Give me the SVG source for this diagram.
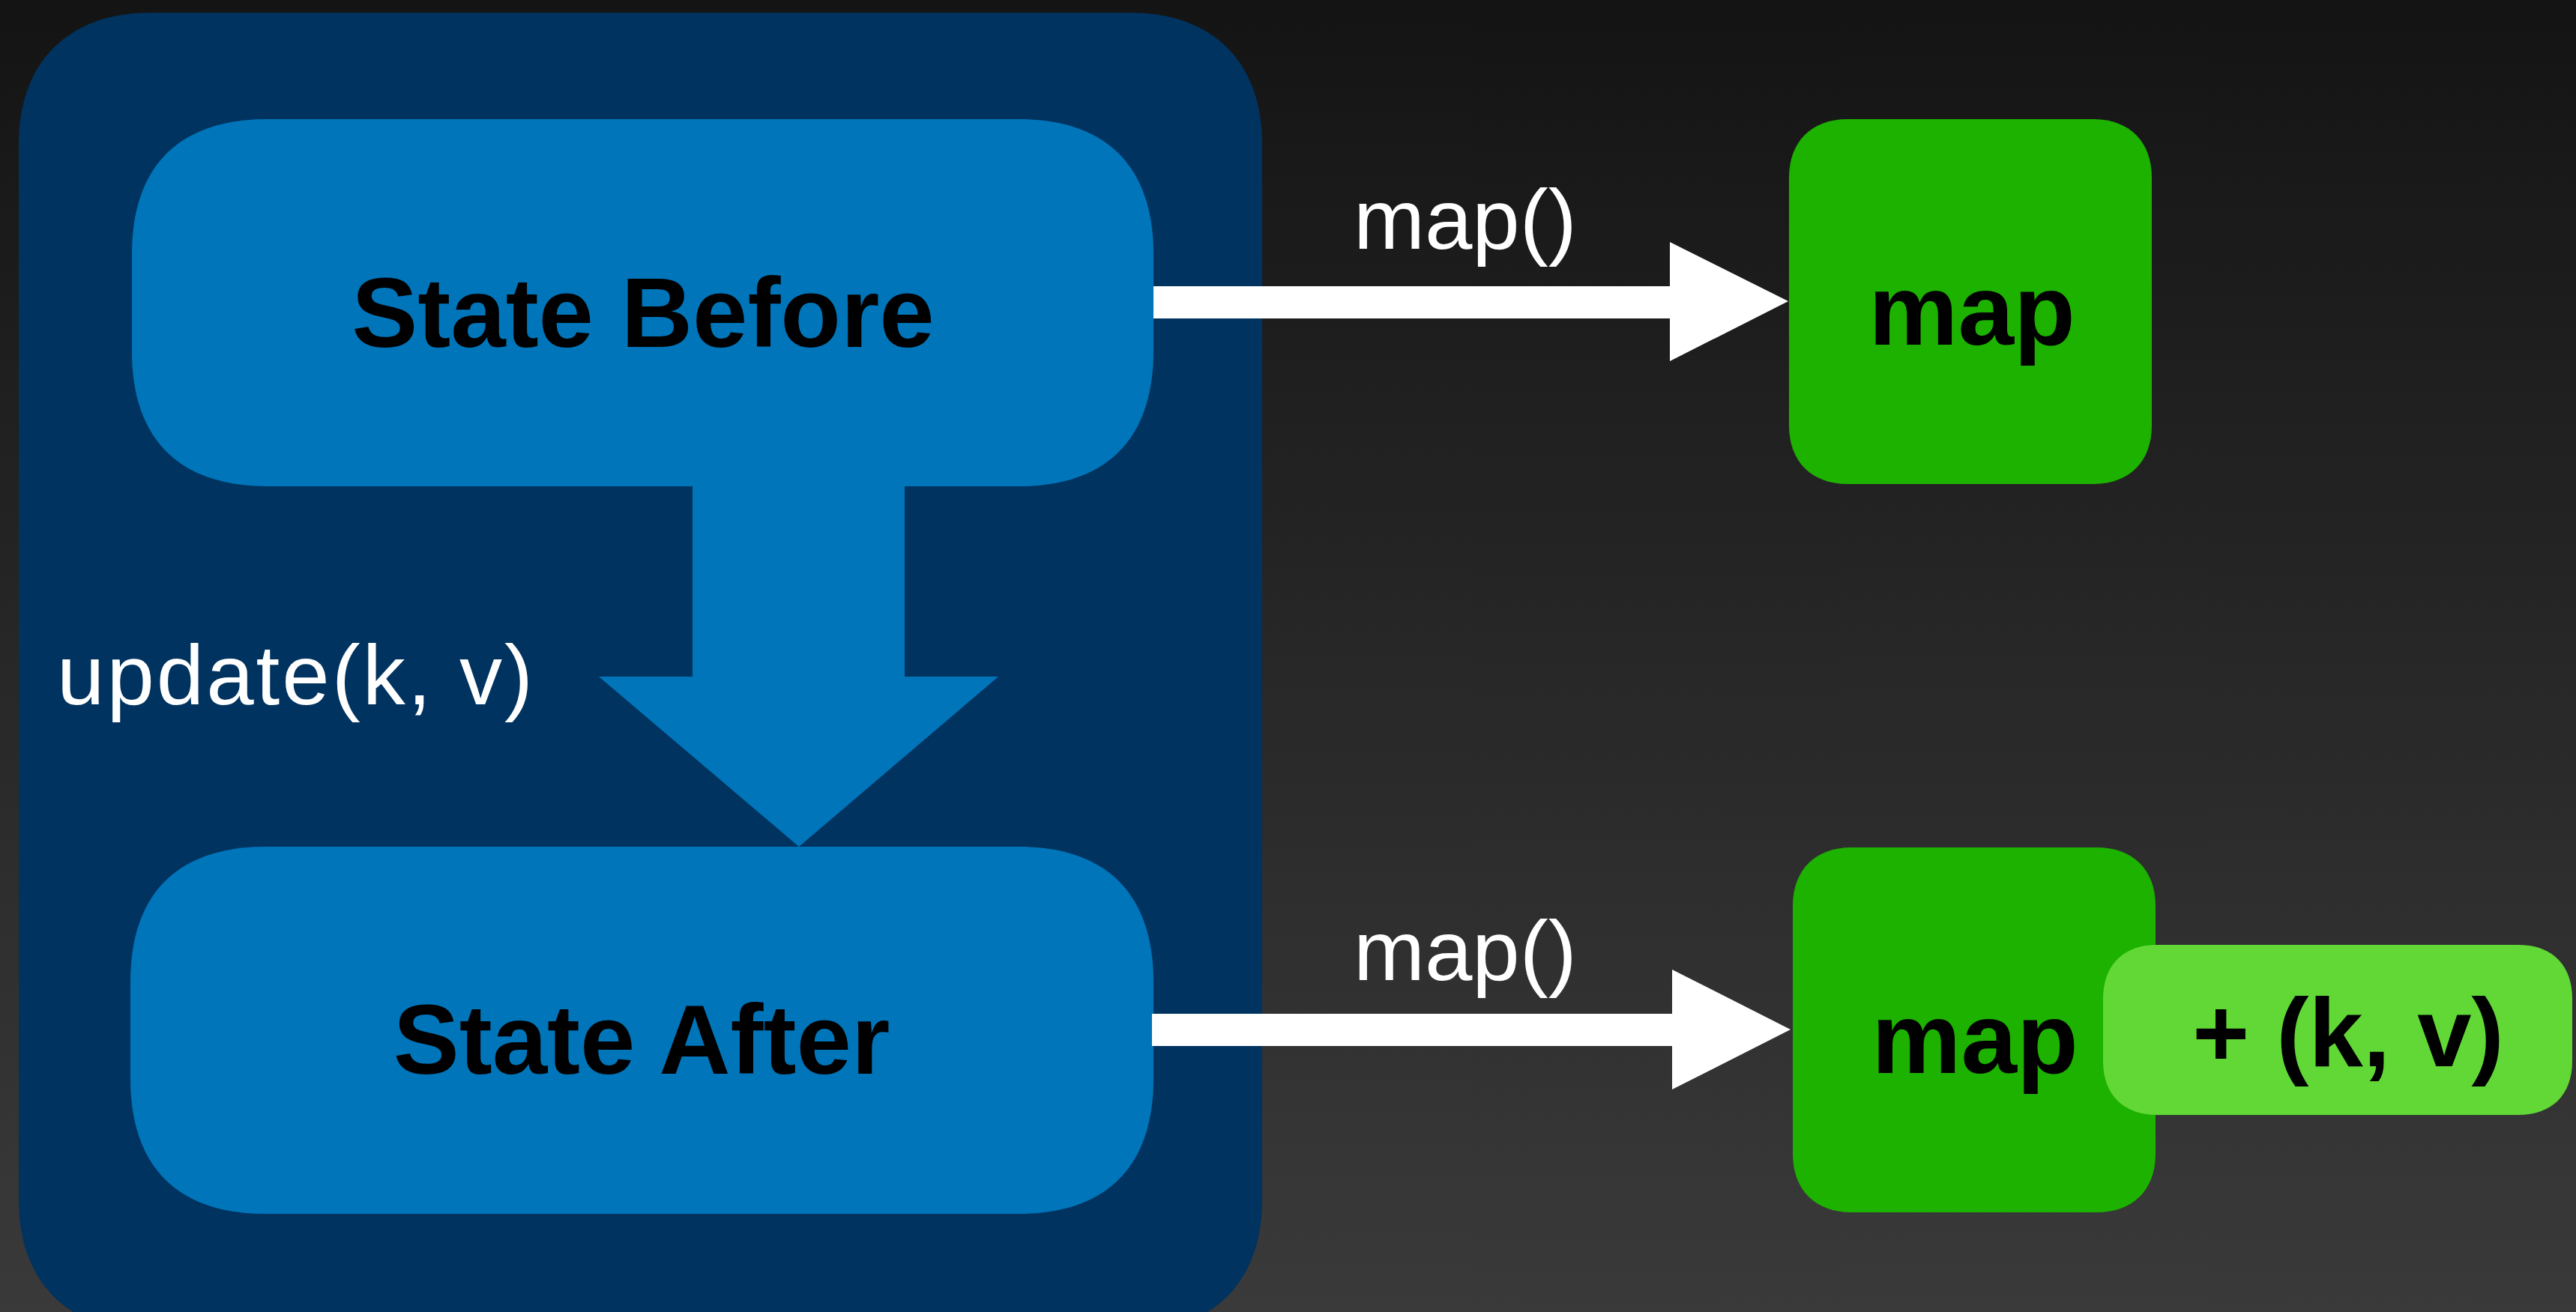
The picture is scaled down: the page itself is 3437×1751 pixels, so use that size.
<svg xmlns="http://www.w3.org/2000/svg" width="3437" height="1751" viewBox="0 0 3437 1751">
<defs>
<linearGradient id="bg" x1="0" y1="0" x2="0" y2="1">
<stop offset="0" stop-color="#141414"/>
<stop offset="1" stop-color="#3a3a3a"/>
</linearGradient>
</defs>
<style>
.lbl{font-family:"Liberation Sans",Arial,sans-serif;fill:#ffffff;font-size:114px}
.nt{font-family:"Liberation Sans",Arial,sans-serif;fill:#000000;font-weight:bold;text-anchor:middle}
.blue{fill:#0075BA}
.green{fill:#1DB100}
.conn{fill:#ffffff}
</style>
<rect width="3437" height="1751" fill="url(#bg)"/>
<g id="container">
<path fill="#00335F" d="M 200,17 H 1509 C 1618,17 1684,83 1684,192 V 1602 C 1684,1711 1618,1777 1509,1777 H 200 C 91,1777 25,1711 25,1602 V 192 C 25,83 91,17 200,17 Z"/>
</g>
<g id="state-before">
<path class="blue" d="M 356,159 H 1359 C 1476,159 1539,222 1539,339 V 469 C 1539,586 1476,649 1359,649 H 356 C 239,649 176,586 176,469 V 339 C 176,222 239,159 356,159 Z"/>
<text class="nt" x="858" y="463" font-size="132">State Before</text>
</g>
<g id="state-after">
<path class="blue" d="M 354,1130 H 1359 C 1476,1130 1539,1193 1539,1310 V 1440 C 1539,1557 1476,1620 1359,1620 H 354 C 237,1620 174,1557 174,1440 V 1310 C 174,1193 237,1130 354,1130 Z"/>
<text class="nt" x="856" y="1433" font-size="132">State After</text>
</g>
<g id="map-before">
<path class="green" d="M 2465,159 H 2793 C 2841,159 2871,189 2871,237 V 568 C 2871,616 2841,646 2793,646 H 2465 C 2417,646 2387,616 2387,568 V 237 C 2387,189 2417,159 2465,159 Z"/>
<text class="nt" x="2631" y="460" font-size="134">map</text>
</g>
<g id="map-after">
<path class="green" d="M 2470,1131 H 2798 C 2846,1131 2876,1161 2876,1209 V 1540 C 2876,1588 2846,1618 2798,1618 H 2470 C 2422,1618 2392,1588 2392,1540 V 1209 C 2392,1161 2422,1131 2470,1131 Z"/>
<text class="nt" x="2635" y="1432" font-size="134">map</text>
</g>
<g id="kv">
<path fill="#61D836" d="M 2878,1261 H 3360 C 3405,1261 3432,1288 3432,1333 V 1416 C 3432,1461 3405,1488 3360,1488 H 2878 C 2833,1488 2806,1461 2806,1416 V 1333 C 2806,1288 2833,1261 2878,1261 Z"/>
<text class="nt" x="3133" y="1423" font-size="130">+ (k, v)</text>
</g>
<g id="connectors">
<polygon class="blue" points="924,645 1207,645 1207,903 1332,903 1066,1130 799,903 924,903"/>
<text class="lbl" x="76" y="940" letter-spacing="3">update(k, v)</text>
<polygon class="conn" points="1539,382 2228,382 2228,323 2386,402 2228,482 2228,425 1539,425"/>
<text class="lbl" x="1806" y="332">map()</text>
<polygon class="conn" points="1537,1353 2231,1353 2231,1294 2389,1374 2231,1454 2231,1396 1537,1396"/>
<text class="lbl" x="1806" y="1308">map()</text>
</g>
</svg>
